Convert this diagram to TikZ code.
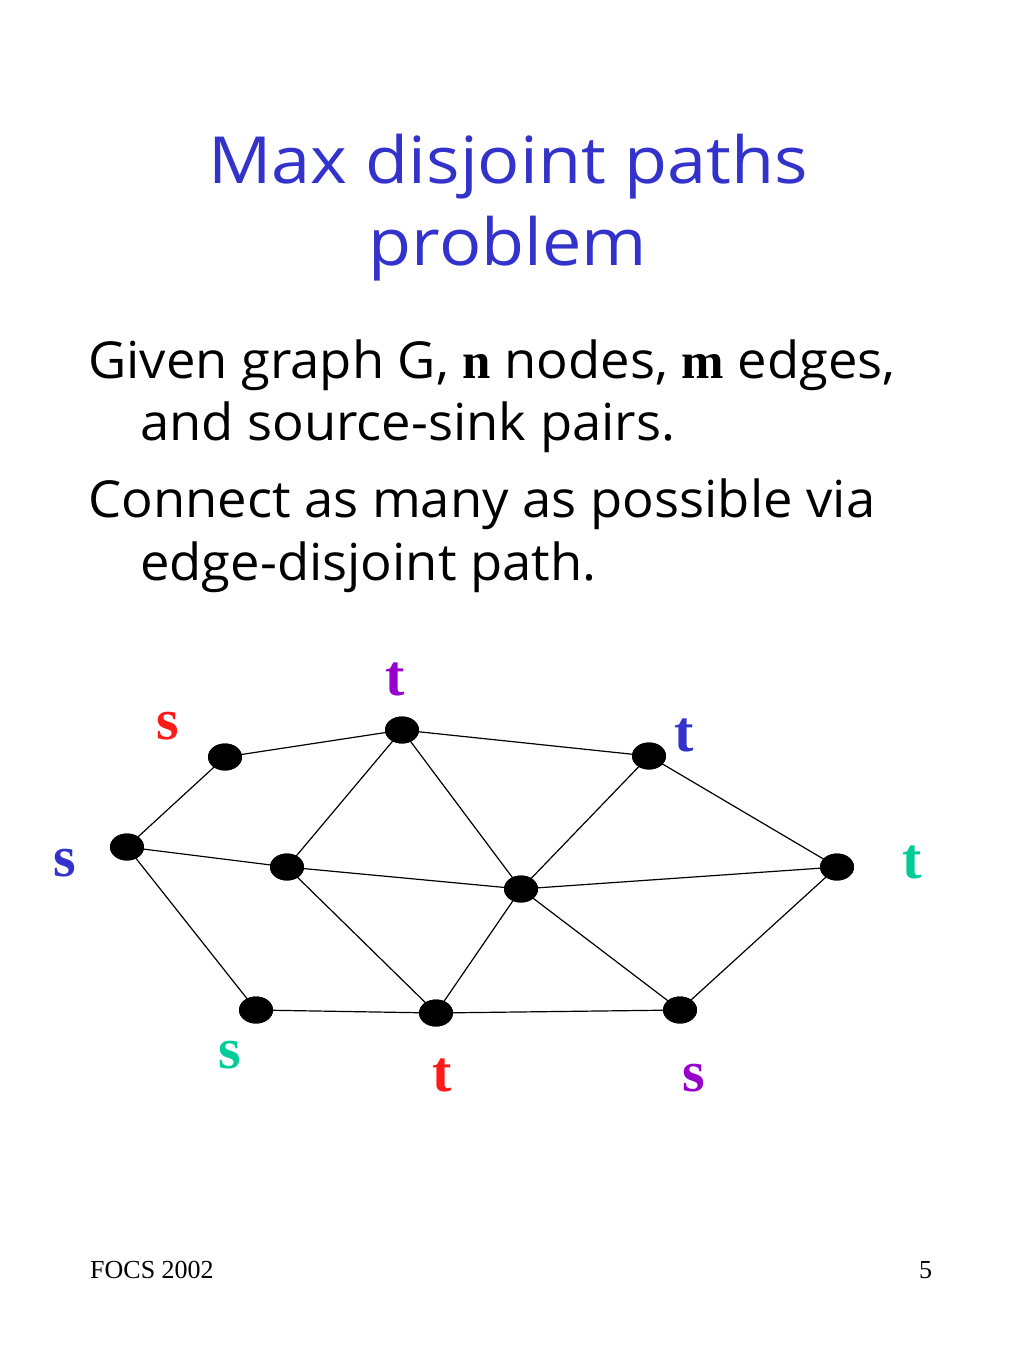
\documentclass[tikz,border=0pt]{standalone}
\usepackage{fontspec}
\setmainfont{Open Sans}
\newfontfamily\bodyfont[FakeStretch=1.03]{Open Sans}
\newfontfamily\titlefont[FakeStretch=1.08]{Open Sans}
\newfontfamily\tnr{Liberation Serif}
\usetikzlibrary{shapes.geometric}
\definecolor{tblue}{HTML}{3333CC}
\definecolor{tred}{HTML}{FF1A1A}
\definecolor{tpurple}{HTML}{9900CC}
\definecolor{tteal}{HTML}{00CC99}
\begin{document}
\begin{tikzpicture}[x=1pt,y=-1pt,
  vtx/.style={ellipse,fill=black,draw=none,minimum width=34pt,minimum height=27pt,inner sep=0pt},
  edge/.style={draw=black,line width=1.2pt},
  lab/.style={inner sep=0pt,font=\tnr\bfseries\fontsize{58}{60}\selectfont},
  title/.style={anchor=base,inner sep=0pt,text=tblue,font=\titlefont\fontsize{65}{70}\selectfont},
  body/.style={anchor=base west,inner sep=0pt,font=\bodyfont\fontsize{51}{60}\selectfont},
  foot/.style={anchor=base west,inner sep=0pt,font=\tnr\fontsize{26}{28}\selectfont}]
\useasboundingbox (0,0) rectangle (1024,1365);
\fill[white] (0,0) rectangle (1024,1365);
% title
\node[title] (ti1) at (508,183) {Max disjoint paths};
\node[title] (ti2) at (508,265) {problem};
% body
\node[body] (b1) at (88,378) {Given graph G, {\tnr\bfseries n} nodes, {\tnr\bfseries m} edges,};
\node[body] (b2) at (140,440) {and source-sink pairs.};
\node[body] (b3) at (88,517) {Connect as many as possible via};
\node[body] (b4) at (140,580) {edge-disjoint path.};
% vertices
\node[vtx] (A) at (225,757) {};
\node[vtx] (B) at (402,730) {};
\node[vtx] (C) at (649,756) {};
\node[vtx] (D) at (127,847) {};
\node[vtx] (E) at (287,867) {};
\node[vtx] (F) at (521,889) {};
\node[vtx] (G) at (837,867) {};
\node[vtx] (H) at (256,1010) {};
\node[vtx] (I) at (436,1013) {};
\node[vtx] (J) at (680,1010) {};
% edges
\draw[edge] (A.center) -- (B.center);
\draw[edge] (B.center) -- (C.center);
\draw[edge] (A.center) -- (D.center);
\draw[edge] (D.center) -- (E.center);
\draw[edge] (D.center) -- (H.center);
\draw[edge] (B.center) -- (E.center);
\draw[edge] (B.center) -- (F.center);
\draw[edge] (C.center) -- (F.center);
\draw[edge] (C.center) -- (G.center);
\draw[edge] (E.center) -- (F.center);
\draw[edge] (F.center) -- (G.center);
\draw[edge] (E.center) -- (I.center);
\draw[edge] (F.center) -- (I.center);
\draw[edge] (F.center) -- (J.center);
\draw[edge] (H.center) -- (I.center);
\draw[edge] (I.center) -- (J.center);
\draw[edge] (J.center) -- (G.center);
% redraw vertices on top
\foreach \v in {A,B,C,D,E,F,G,H,I,J} \fill[black] (\v.center) ellipse (17pt and 13.5pt);
% labels
\node[lab,text=tred] (sA) at (168,726) {s};
\node[lab,text=tpurple] (tB) at (395,679) {t};
\node[lab,text=tblue] (tC) at (684,735) {t};
\node[lab,text=tblue] (sD) at (65,863) {s};
\node[lab,text=tteal] (tG) at (912,862) {t};
\node[lab,text=tteal] (sH) at (230,1055) {s};
\node[lab,text=tred] (tI) at (442,1075) {t};
\node[lab,text=tpurple] (sJ) at (694,1078) {s};
% footer
\node[foot] (f1) at (90,1278) {FOCS 2002};
\node[foot] (f2) at (919,1278) {5};
\end{tikzpicture}
\end{document}
